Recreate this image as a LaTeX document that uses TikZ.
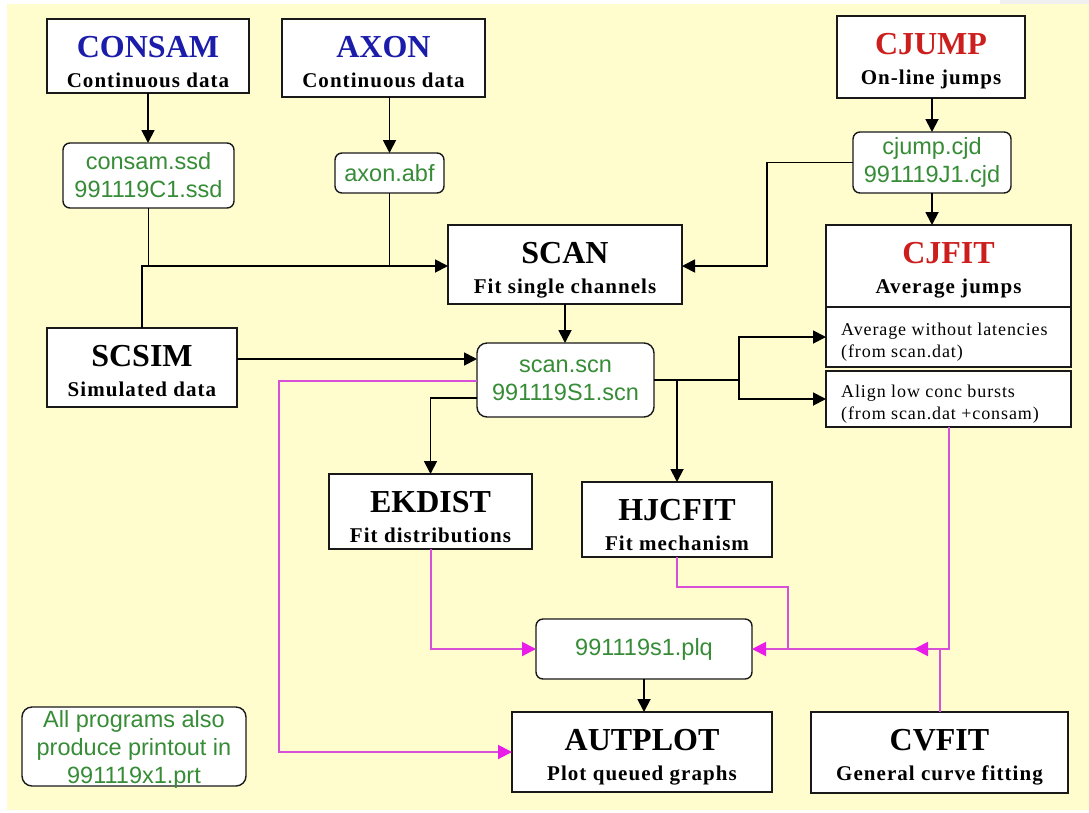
\documentclass[tikz,border=0pt]{standalone}
\usepackage{fontspec}
\setmainfont{Liberation Serif}
\newfontfamily\sansf{Liberation Sans}
\newfontfamily\spacedf{Liberation Serif}[LetterSpace=5.0]
\usetikzlibrary{arrows.meta,calc}
\definecolor{bgyellow}{RGB}{255,253,206}
\definecolor{ttlblue}{RGB}{28,28,170}
\definecolor{ttlred}{RGB}{205,30,30}
\definecolor{fgreen}{RGB}{55,140,55}
\definecolor{mag}{RGB}{215,80,215}
\definecolor{magtip}{RGB}{232,30,232}
\definecolor{boxline}{RGB}{25,25,25}
\newcommand\progbox[8]{%
  \node[prog, minimum width=#4, minimum height=#5] (#1) at (#2,#3) {};
  \node[ttl, text=#6, anchor=base] (#1-t) at ($(#1.north)+(0,38)$) {#7};
  \node[subt, anchor=base] (#1-s) at ($(#1.north)+(0,68)$) {#8};
}
\begin{document}
\begin{tikzpicture}[x=1pt,y=-1pt,
  prog/.style={draw=boxline, line width=1.6pt, fill=white, rectangle, inner sep=0pt, outer sep=0pt},
  filebox/.style={draw=boxline, line width=1.4pt, fill=white, rounded corners=7pt, inner sep=0pt, outer sep=0pt, align=center, text=fgreen, font=\sansf\fontsize{23.5}{28}\selectfont},
  ttl/.style={font=\bfseries\fontsize{32}{32}\selectfont, inner sep=0pt},
  subt/.style={font=\spacedf\bfseries\fontsize{21}{21}\selectfont, inner sep=0pt},
  small/.style={font=\spacedf\fontsize{18}{22}\selectfont, inner sep=0pt, align=left, anchor=north west},
  conn/.style={draw=black, line width=1.8pt},
  arr/.style={conn, -{Triangle[length=13pt,width=13pt]}},
  mconn/.style={draw=mag, line width=2pt},
  marr/.style={mconn, -{Triangle[length=14pt,width=14pt,color=magtip,fill=magtip]}},
]
% background
\fill[white] (0,0) rectangle (1089,812);
\fill[gray!12] (1000,0) rectangle (1089,4);
\fill[bgyellow] (7,4) rectangle (1089,810);
\useasboundingbox (0,0) rectangle (1089,812);

% program boxes
\progbox{consam}{148}{56}{202}{74}{ttlblue}{CONSAM}{Continuous data}
\progbox{axon}{383.5}{58}{203}{78}{ttlblue}{AXON}{Continuous data}
\progbox{cjump}{931}{57}{188}{82}{ttlred}{CJUMP}{On-line jumps}
\progbox{scan}{565}{264.5}{234}{79}{black}{SCAN}{Fit single channels}
\progbox{cjfit}{948.5}{266}{245}{82}{ttlred}{CJFIT}{Average jumps}
\progbox{scsim}{142}{367.5}{190}{79}{black}{SCSIM}{Simulated data}
\progbox{ekdist}{430.5}{511.5}{203}{75}{black}{EKDIST}{Fit distributions}
\progbox{hjcfit}{677}{519.5}{190}{75}{black}{HJCFIT}{Fit mechanism}
\progbox{autplot}{642}{752}{260}{80}{black}{AUTPLOT}{Plot queued graphs}
\progbox{cvfit}{939.5}{752.5}{257}{81}{black}{CVFIT}{General curve fitting}

% CJFIT sub boxes
\node[prog, minimum width=245, minimum height=60] (sub1) at (948.5,337) {};
\node[prog, minimum width=245, minimum height=56] (sub2) at (948.5,399) {};
\node[small] (sub1-t) at (841,323) {Average without latencies\\(from scan.dat)};
\node[small] (sub2-t) at (841,385) {Align low conc bursts\\(from scan.dat +consam)};

% file boxes
\node[filebox, minimum width=171, minimum height=65] (consamf) at (148.5,175.5) {consam.ssd\\991119C1.ssd};
\node[filebox, minimum width=109, minimum height=40] (axonf) at (389.5,173) {axon.abf};
\node[filebox, minimum width=158, minimum height=61] (cjumpf) at (932,162.5) {cjump.cjd\\991119J1.cjd};
\node[filebox, rounded corners=10pt, minimum width=177, minimum height=74] (scanf) at (565.5,380) {scan.scn\\991119S1.scn};
\node[filebox, minimum width=216, minimum height=60] (plq) at (644,649) {991119s1.plq};
\node[filebox, rounded corners=10pt, minimum width=224, minimum height=79] (note) at (134,746.5) {};
\node[anchor=north, inner sep=0pt, align=center, text=fgreen, font=\sansf\fontsize{23.5}{28}\selectfont] (notetext) at (134,710) {All programs also\\produce printout in\\991119x1.prt};

% black connectors
\draw[arr] (consam.south) -- (consam.south |- consamf.north);
\draw[arr] (axonf.north |- axon.south) -- (axonf.north);
\draw[arr] (cjump.south -| cjumpf.north) -- (cjumpf.north);
\draw[arr] (cjumpf.south) -- (cjumpf.south |- cjfit.north);
\coordinate (yin) at (0,266);
\draw[arr] (scsim.north) -- (scsim.north |- yin) -- (scan.west |- yin);
\draw[conn] (consamf.south) -- (consamf.south |- yin);
\draw[conn] (axonf.south) -- (axonf.south |- yin);
\coordinate (cjx) at (767,0);
\draw[arr] (cjumpf.west) -- (cjumpf.west -| cjx) -- (cjx |- yin) -- (scan.east |- yin);
\draw[arr] (scan.south) -- (scan.south |- scanf.north);
\coordinate (ysim) at (0,359);
\draw[arr] (scsim.east |- ysim) -- (scanf.west |- ysim);
\coordinate (jx) at (739,380);
\draw[conn] (scanf.east) -- (jx);
\draw[arr] (jx) |- (sub1.west);
\draw[arr] (jx) |- (sub2.west);
\draw[arr] (hjcfit.north |- scanf.east) -- (hjcfit.north);
\coordinate (yek) at (0,398);
\draw[arr] (scanf.west |- yek) -| (ekdist.north);
\draw[arr] (plq.south) -- (plq.south |- autplot.north);

% magenta connectors
\coordinate (ymg) at (0,381);
\coordinate (mx) at (279,0);
\draw[marr] (scanf.west |- ymg) -- (mx |- ymg) -- (mx |- autplot.west) -- (autplot.west);
\draw[marr] (ekdist.south) |- (plq.west);
\draw[marr] (sub2.south) |- (plq.east);
\coordinate (hj) at (788,587);
\draw[mconn] (hjcfit.south) -- (hjcfit.south |- hj) -- (hj) -- (hj |- plq.east);
\coordinate (cvtip) at (914,0);
\draw[marr] (cvfit.north) -- (cvfit.north |- plq.east) -- (cvtip |- plq.east);
\end{tikzpicture}
\end{document}
